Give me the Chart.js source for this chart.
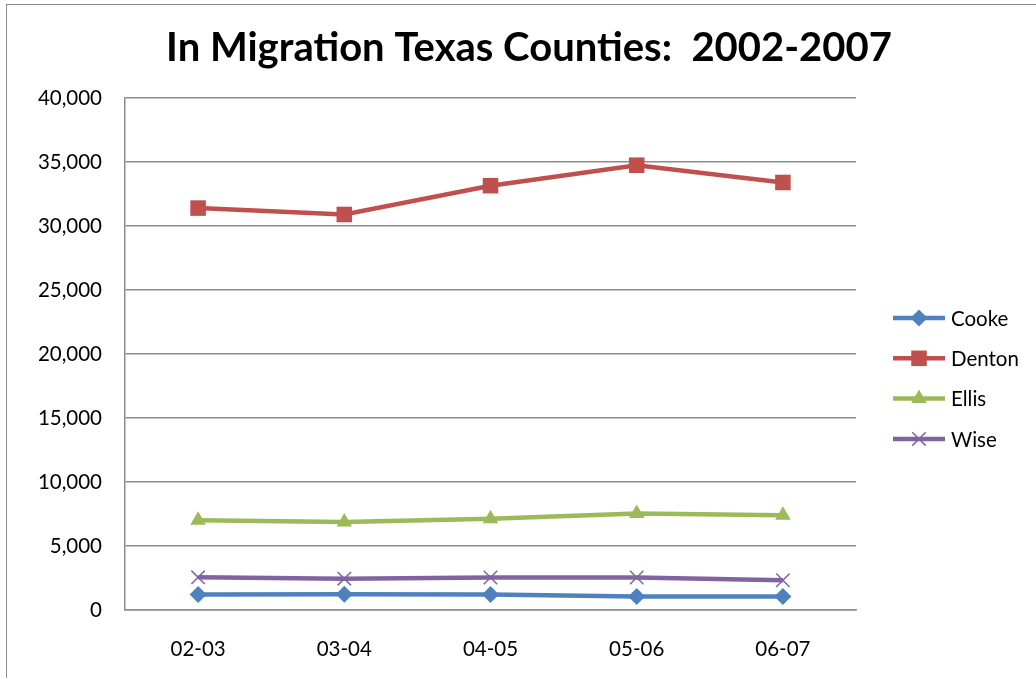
<!DOCTYPE html>
<html>
<head>
<meta charset="utf-8">
<script src="https://cdn.jsdelivr.net/npm/chart.js@4/dist/chart.umd.min.js"></script>
<style>
    body { margin: 0; background: #fff; overflow: hidden; }
    #wrap { position: relative; width: 1036px; height: 678px; }
    #frame { position: absolute; left: 6px; top: 4px; width: 1100px; height: 700px;
             border-left: 1.5px solid #8c8c8c; border-top: 1.5px solid #8c8c8c; }
    canvas { position: absolute; left: 0; top: 0; }
</style>
</head>
<body>
<div id="wrap">
    <div id="frame"></div>
    <canvas id="chart" width="1036" height="678"></canvas>
</div>
<script>
// data
const titleText = 'In Migration Texas Counties:  2002-2007';
const periods = ['02-03', '03-04', '04-05', '05-06', '06-07'];
const cooke = [1220, 1230, 1220, 1050, 1060];
const denton = [31400, 30900, 33150, 34750, 33400];
const ellis = [7020, 6870, 7120, 7540, 7410];
const wise = [2550, 2450, 2540, 2540, 2320];

const FONT = 'Lato, "Open Sans", sans-serif';

function series(label, data, color, style, radius) {
    return {
        label, data,
        borderColor: color,
        backgroundColor: color,
        borderWidth: 4.5,
        pointStyle: style,
        pointRadius: radius,
        pointBorderWidth: style === 'crossRot' ? 1.5 : 0,
        pointBorderColor: color,
        pointBackgroundColor: color,
        tension: 0
    };
}

// title + legend with line and marker, like the spreadsheet one
const decorPlugin = {
    id: 'decor',
    afterDraw(chart) {
        const ctx = chart.ctx;
        ctx.save();
        ctx.fillStyle = '#000';
        ctx.font = 'bold 40px ' + FONT;
        ctx.textAlign = 'center';
        ctx.textBaseline = 'alphabetic';
        ctx.fillText(titleText, 529, 61);

        ctx.font = '20.5px ' + FONT;
        ctx.textAlign = 'left';
        ctx.textBaseline = 'middle';
        chart.data.datasets.forEach((ds, i) => {
            const y = 318 + i * 40.3;
            ctx.strokeStyle = ds.borderColor;
            ctx.lineWidth = 4.5;
            ctx.beginPath();
            ctx.moveTo(893, y);
            ctx.lineTo(945, y);
            ctx.stroke();
            ctx.fillStyle = ds.pointBackgroundColor;
            ctx.lineWidth = ds.pointBorderWidth || 0;
            Chart.helpers.drawPoint(ctx, {
                pointStyle: ds.pointStyle, radius: ds.pointRadius,
                rotation: 0, borderWidth: ds.pointBorderWidth
            }, 919, y);
            ctx.fillStyle = '#000';
            ctx.fillText(ds.label, 951, y + 1);
        });
        ctx.restore();
    }
};

new Chart(document.getElementById('chart').getContext('2d'), {
    type: 'line',
    data: {
        labels: periods,
        datasets: [
            series('Cooke', cooke, '#4F81BD', 'rectRot', 8.5),
            series('Denton', denton, '#C0504D', 'rect', 11),
            series('Ellis', ellis, '#9BBB59', 'triangle', 9),
            series('Wise', wise, '#8064A2', 'crossRot', 9.5)
        ]
    },
    options: {
        responsive: false,
        animation: false,
        layout: { padding: { top: 98, right: 180, left: 0, bottom: 0 } },
        plugins: {
            legend: { display: false },
            title: { display: false },
            tooltip: { enabled: false }
        },
        scales: {
            x: {
                offset: true,
                grid: { display: false, drawTicks: false },
                border: { display: true, color: '#8c8c8c', width: 1.5 },
                ticks: { color: '#000', font: { family: FONT, size: 20.5 }, padding: 27 },
                afterFit: s => { s.height = 68; }
            },
            y: {
                min: 0,
                max: 40000,
                grid: { color: '#8c8c8c', lineWidth: 1.5, drawTicks: false },
                border: { display: true, color: '#8c8c8c', width: 1.5 },
                ticks: {
                    stepSize: 5000,
                    color: '#000',
                    font: { family: FONT, size: 20.5 },
                    padding: 23,
                    callback: v => v.toLocaleString('en-US')
                },
                afterFit: s => { s.width = 125; }
            }
        }
    },
    plugins: [decorPlugin]
});
</script>
</body>
</html>
